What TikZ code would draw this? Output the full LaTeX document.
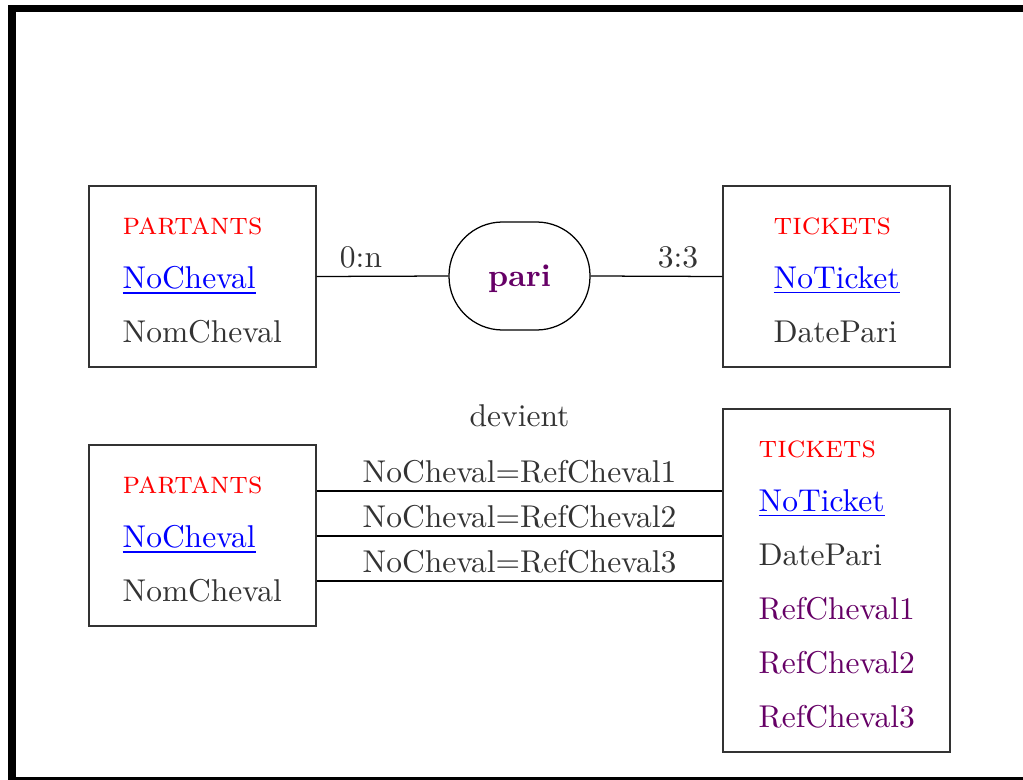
\documentclass[tikz,border=0pt]{standalone}
\usetikzlibrary{calc}
\definecolor{txt}{RGB}{51,51,51}
\definecolor{attr}{RGB}{102,0,102}
\tikzset{
  ent/.style={draw=txt, line width=0.4pt, minimum width=72.07pt, inner sep=0pt},
  lbl/.style={anchor=base west, inner sep=0pt, text=txt},
  ttl/.style={anchor=base west, inner sep=0pt, text=red},
  key/.style={anchor=base west, inner sep=0pt, text=blue},
  ref/.style={anchor=base west, inner sep=0pt, text=attr},
  card/.style={anchor=base, inner sep=0pt, text=txt},
  link/.style={draw=black, line width=0.4pt},
  rel/.style={draw=black, line width=0.4pt, rounded corners=17pt, minimum width=44.77pt, minimum height=34.29pt, inner sep=0pt, text=attr, font=\bfseries}
}
\begin{document}
\begin{tikzpicture}[x=0.3175pt, y=-0.3175pt]
\clip (0,0) rectangle (1023,779);
\fill[white] (0,0) rectangle (1023,779);
\draw[line width=2.38pt] (12,8.5) rectangle (1040,780.5);
% top diagram
\node[ent, minimum height=57.47pt] (A) at (202.5,276.5) {};
\node[ttl] (A1) at (122,234) {\textsc{partants}};
\node[key] (A2) at (122,288) {\underline{NoCheval}};
\node[lbl] (A3) at (122,342) {NomCheval};
\node[ent, minimum height=57.47pt] (B) at (836.5,276.5) {};
\node[ttl] (B1) at (773,234) {\textsc{tickets}};
\node[key] (B2) at (773,288) {\underline{NoTicket}};
\node[lbl] (B3) at (773,342) {DatePari};
\node[rel, text depth=0pt] (P) at (519.5,276) {pari};
\draw[link] (A.east) -- (P.west);
\draw[link] (P.east) -- (B.west);
\node[card] (c1) at (361,268) {0:n};
\node[card] (c2) at (678,268) {3:3};
% bottom diagram
\node[card] (dv) at (519.5,426) {devient};
\node[ent, minimum height=57.47pt] (C) at (202.5,535.5) {};
\node[ttl] (C1) at (122,493) {\textsc{partants}};
\node[key] (C2) at (122,547) {\underline{NoCheval}};
\node[lbl] (C3) at (122,601) {NomCheval};
\node[ent, minimum height=108.9pt] (D) at (836.5,580.5) {};
\node[ttl] (D1) at (758,457) {\textsc{tickets}};
\node[key] (D2) at (758,511) {\underline{NoTicket}};
\node[lbl] (D3) at (758,565) {DatePari};
\node[ref] (D4) at (758,619) {RefCheval1};
\node[ref] (D5) at (758,673) {RefCheval2};
\node[ref] (D6) at (758,727) {RefCheval3};
\coordinate (y1) at (0,491);
\coordinate (y2) at (0,536);
\coordinate (y3) at (0,581);
\draw[link] (C.east |- y1) -- (D.west |- y1);
\draw[link] (C.east |- y2) -- (D.west |- y2);
\draw[link] (C.east |- y3) -- (D.west |- y3);
\node[card] (e1) at (519.5,482) {NoCheval=RefCheval1};
\node[card] (e2) at (519.5,527) {NoCheval=RefCheval2};
\node[card] (e3) at (519.5,572) {NoCheval=RefCheval3};
\end{tikzpicture}
\end{document}
